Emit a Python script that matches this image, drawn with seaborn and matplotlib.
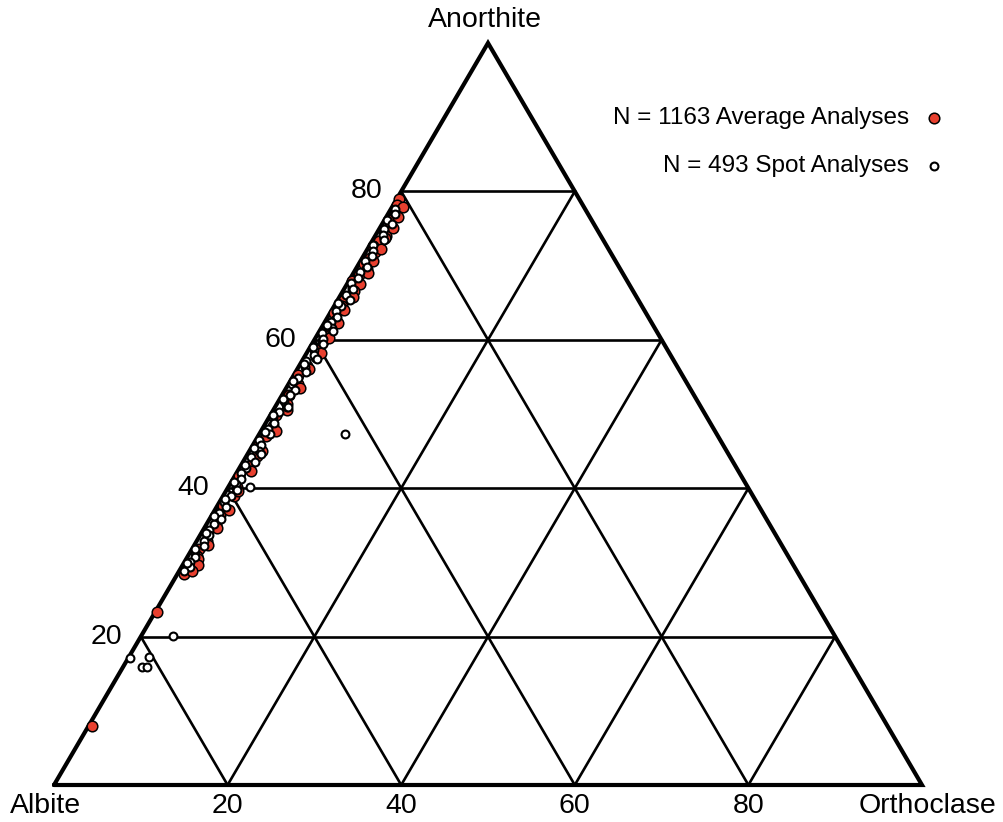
import matplotlib
matplotlib.use("Agg")
import matplotlib.pyplot as plt
import numpy as np
import pandas as pd
import seaborn as sns

# Feldspar compositions (mol %): An = anorthite, Or = orthoclase, Ab = remainder
avg_an = [79.0, 78.2, 77.4, 76.8, 76.1, 75.5, 74.7, 74.0, 73.3, 72.6,
          71.8, 71.0, 70.2, 69.5, 68.7, 67.9, 67.0, 66.2, 65.4, 64.5,
          63.6, 62.7, 61.7, 60.8, 59.9, 58.8, 57.7, 56.5, 55.2, 54.0,
          52.6, 51.3, 49.9, 48.4, 47.0, 45.7, 44.3, 43.0, 41.6, 40.2,
          38.9, 37.6, 36.4, 35.2, 34.0, 32.9, 31.8, 30.9, 30.0, 29.2,
          28.5, 23.3, 8.0,
          77.9, 76.5, 75.0, 73.7, 72.2, 70.6, 69.0, 67.5, 66.6, 65.8,
          64.0, 62.2, 60.3, 58.2, 56.0, 53.5, 50.6, 47.7, 45.0, 42.3,
          39.6, 37.0, 34.6, 32.3, 30.4, 29.6, 28.8]
avg_or = [0.3, 0.4, 0.6, 0.9, 0.5, 1.0, 0.7, 1.2, 0.8, 0.5,
          1.1, 0.9, 0.6, 1.3, 0.8, 0.4, 1.0, 1.2, 0.7, 0.9,
          0.5, 1.1, 0.8, 0.6, 1.0, 0.7, 1.3, 0.9, 0.5, 1.1,
          0.8, 1.2, 0.6, 1.0, 0.9, 0.7, 1.2, 0.8, 0.5, 1.0,
          1.3, 0.7, 0.9, 1.1, 0.6, 1.2, 0.8, 1.0, 1.3, 0.9,
          0.7, 0.2, 0.4,
          1.2, 1.4, 1.5, 1.3, 1.6, 1.4, 1.7, 1.5, 1.3, 1.6,
          1.4, 1.6, 1.5, 1.7, 1.4, 1.6, 1.5, 1.7, 1.5, 1.6,
          1.4, 1.7, 1.5, 1.6, 1.4, 1.8, 1.5]

spot_an = [77.6, 76.9, 76.2, 75.6, 74.9, 74.1, 73.5, 72.8, 72.0, 71.3,
           70.6, 69.8, 69.1, 68.3, 67.6, 66.8, 66.0, 65.3, 64.6, 63.9,
           63.1, 62.4, 61.6, 60.9, 60.1, 59.4, 58.6, 57.9, 57.1, 56.3,
           55.6, 54.8, 54.1, 53.3, 52.6, 51.8, 51.0, 50.3, 49.5, 48.8,
           48.0, 47.3, 46.5, 45.8, 45.0, 44.2, 43.5, 42.7, 42.0, 41.2,
           40.5, 39.7, 39.0, 38.2, 37.4, 36.7, 35.9, 35.2, 34.4, 33.7,
           32.9, 32.2, 31.4, 30.7, 30.0, 29.4, 28.9, 47.3, 40.2, 20.1,
           17.1, 17.2, 15.9, 15.9,
           64.9, 62.0, 59.0, 56.7, 54.4, 52.0, 49.8, 47.6, 45.4, 43.1,
           40.9, 38.6, 36.3, 34.0, 31.8, 29.9, 44.6, 50.9, 57.4, 61.2]
spot_or = [0.5, 0.8, 0.3, 1.1, 0.6, 0.9, 1.3, 0.4, 0.8, 1.0,
           0.5, 1.2, 0.7, 0.9, 0.4, 1.1, 0.6, 1.4, 0.8, 0.5,
           1.0, 0.7, 1.2, 0.4, 0.9, 1.3, 0.6, 1.0, 0.5, 0.8,
           1.2, 0.7, 0.4, 1.1, 0.9, 0.6, 1.3, 0.8, 0.5, 1.0,
           0.7, 1.2, 0.4, 0.9, 1.1, 0.6, 1.4, 0.8, 0.5, 1.0,
           0.7, 1.2, 0.9, 0.5, 1.1, 0.7, 1.3, 0.8, 0.6, 1.0,
           0.8, 1.2, 0.6, 0.9, 0.7, 1.0, 0.5, 9.9, 2.5, 3.7,
           0.2, 2.3, 2.2, 2.8,
           0.3, 0.4, 0.3, 0.5, 0.3, 0.4, 0.3, 0.5, 0.3, 0.4,
           0.3, 0.4, 0.3, 0.5, 0.3, 0.4, 1.6, 1.5, 1.6, 1.5]

grid_ticks = [20, 40, 60, 80]
apex_labels = ["Albite", "Orthoclase", "Anorthite"]
legend_labels = ["N = 1163 Average Analyses", "N = 493 Spot Analyses"]


def to_xy(an, orth):
    an = np.asarray(an, float) / 100.0
    orth = np.asarray(orth, float) / 100.0
    return orth + an / 2.0, an


sns.set_style("white")
plt.rcParams["font.family"] = ["Liberation Sans", "DejaVu Sans"]
plt.rcParams["text.color"] = "black"

W, H = 1004, 822
fig = plt.figure(figsize=(W / 100, H / 100), dpi=100)
x0, x1, yb, yt = 54, 922, 785, 43
ax = fig.add_axes([x0 / W, (H - yb) / H, (x1 - x0) / W, (yb - yt) / H])
ax.set_xlim(0, 1)
ax.set_ylim(0, 1)
ax.axis("off")

# interior grid
for t in grid_ticks:
    k = t / 100.0
    ax.plot([k / 2, 1 - k / 2], [k, k], color="black", lw=1.9, zorder=1)
    ax.plot([k, k + (1 - k) / 2], [0, 1 - k], color="black", lw=1.9, zorder=1)
    ax.plot([1 - k, (1 - k) / 2], [0, 1 - k], color="black", lw=1.9, zorder=1)

# outer frame
ax.plot([0, 1, 0.5, 0], [0, 0, 1, 0], color="black", lw=3.0,
        solid_joinstyle="miter", zorder=2, clip_on=False)

ax_, ay_ = to_xy(avg_an, avg_or)
sx_, sy_ = to_xy(spot_an, spot_or)
df_avg = pd.DataFrame({"x": ax_, "y": ay_})
df_spot = pd.DataFrame({"x": sx_, "y": sy_})

red = "#e8402f"
sns.scatterplot(data=df_avg, x="x", y="y", ax=ax, s=58, color=red,
                edgecolor="black", linewidth=1.1, zorder=3, clip_on=False)
sns.scatterplot(data=df_spot, x="x", y="y", ax=ax, s=32, color="white",
                edgecolor="black", linewidth=1.5, zorder=4, clip_on=False)

fs = 20.5
# corner labels
ax.text(-0.051, -0.028, apex_labels[0], ha="left", va="center", fontsize=fs)
ax.text(1.086, -0.028, apex_labels[1], ha="right", va="center", fontsize=fs)
ax.text(0.497, 1.031, apex_labels[2], ha="center", va="center", fontsize=fs)

# bottom (Or) and left (An) tick labels
for t in grid_ticks:
    k = t / 100.0
    ax.text(k, -0.028, str(t), ha="center", va="center", fontsize=fs)
    ax.text(k / 2 - 0.021, k, str(t), ha="right", va="center", fontsize=fs)

# legend
leg_y = [0.899, 0.834]
ax.text(0.985, leg_y[0], legend_labels[0], ha="right", va="center", fontsize=17.5)
ax.text(0.985, leg_y[1], legend_labels[1], ha="right", va="center", fontsize=17.5)
ax.scatter([1.014], [leg_y[0]], s=58, color=red, edgecolor="black",
           linewidth=1.1, clip_on=False)
ax.scatter([1.014], [leg_y[1]], s=32, color="white", edgecolor="black",
           linewidth=1.5, clip_on=False)

fig.savefig("out.png", dpi=100)
